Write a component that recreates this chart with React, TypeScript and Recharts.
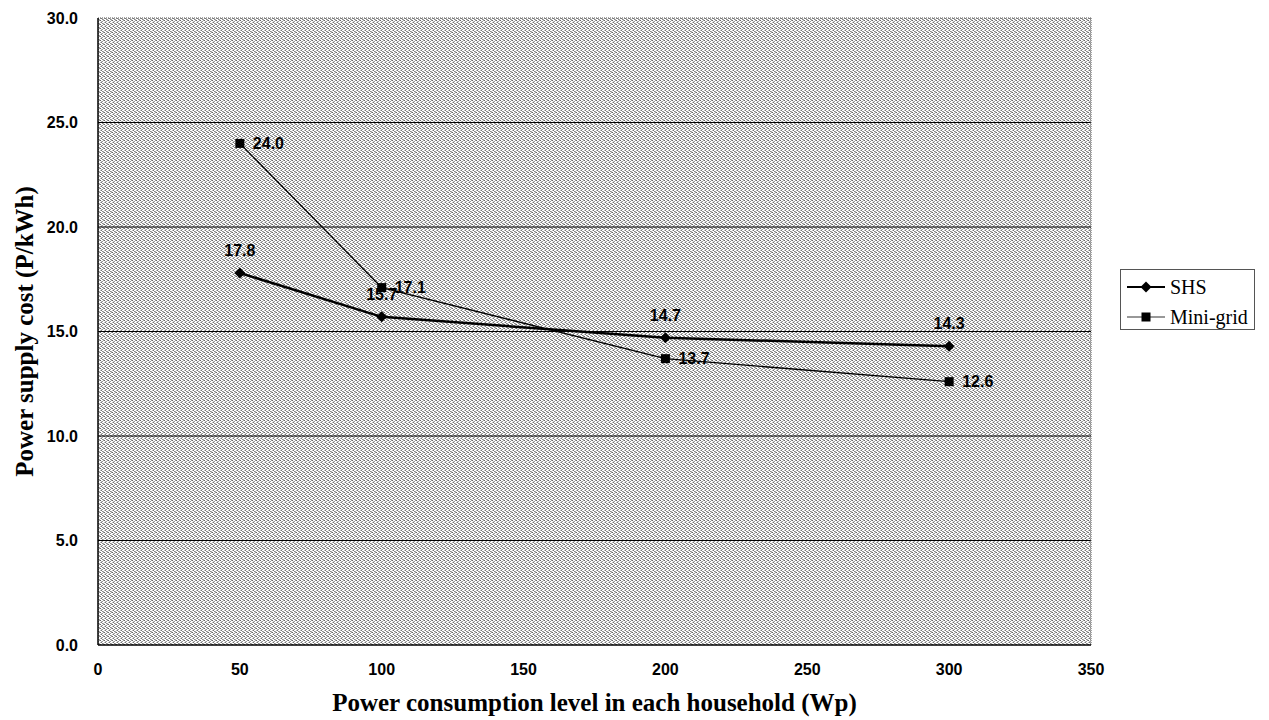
import React from 'react';
import { LineChart, Line, XAxis, YAxis, CartesianGrid, Legend, LabelList, ReferenceLine } from 'recharts';

const xValues = [50, 100, 200, 300];
const shsValues = [17.8, 15.7, 14.7, 14.3];
const miniGridValues = [24.0, 17.1, 13.7, 12.6];
const xTicks = [0, 50, 100, 150, 200, 250, 300, 350];
const yTicks = [0, 5, 10, 15, 20, 25, 30];
const gridValues = [5, 10, 15, 20, 25];
const seriesNames = ['SHS', 'Mini-grid'];

const data = xValues.map((x, i) => ({ x, shs: shsValues[i], mini: miniGridValues[i] }));

const SANS = '"Liberation Sans", Arial, sans-serif';
const SERIF = '"Liberation Serif", "Times New Roman", serif';

const renderDiamond = (props: any) => {
  const { cx, cy, index } = props;
  if (cx == null || cy == null) return <g key={`d${index}`} />;
  const r = 5.5;
  return <path key={`d${index}`} d={`M${cx},${cy - r}L${cx + r},${cy}L${cx},${cy + r}L${cx - r},${cy}Z`} fill="#000" />;
};

const renderSquare = (props: any) => {
  const { cx, cy, index } = props;
  if (cx == null || cy == null) return <g key={`s${index}`} />;
  const h = 4.5;
  return <rect key={`s${index}`} x={cx - h} y={cy - h} width={h * 2} height={h * 2} fill="#000" />;
};

const renderLegend = () => (
  <div
    style={{
      border: '1px solid #555',
      background: '#fff',
      width: 133,
      height: 59,
      fontFamily: SERIF,
      fontSize: 20,
      color: '#000',
      lineHeight: '28px',
    }}
  >
    <div style={{ display: 'flex', alignItems: 'center', height: 28, marginTop: 3 }}>
      <svg width={44} height={20} style={{ flex: 'none' }}>
        <line x1={6} x2={44} y1={10} y2={10} stroke="#000" strokeWidth={2} />
        <path d="M25,4.5L30.5,10L25,15.5L19.5,10Z" fill="#000" />
      </svg>
      <span style={{ marginLeft: 5 }}>{seriesNames[0]}</span>
    </div>
    <div style={{ display: 'flex', alignItems: 'center', height: 28, marginTop: 2 }}>
      <svg width={44} height={20} style={{ flex: 'none' }}>
        <line x1={6} x2={44} y1={10} y2={10} stroke="#333" strokeWidth={1.2} />
        <rect x={20.5} y={5.5} width={9} height={9} fill="#000" />
      </svg>
      <span style={{ marginLeft: 5 }}>{seriesNames[1]}</span>
    </div>
  </div>
);

export default function App() {
  return (
    <LineChart
      width={1253}
      height={712}
      data={data}
      margin={{ top: 10, right: 35, bottom: 5, left: 0 }}
    >
      <defs>
        <pattern id="dither" width="4" height="4" patternUnits="userSpaceOnUse">
          <rect x="0" y="0" width="4" height="4" fill="#ffffff" />
          <rect x="0" y="0" width="1" height="1" fill="#666666" />
          <rect x="2" y="1" width="1" height="1" fill="#999999" />
          <rect x="1" y="2" width="1" height="1" fill="#777777" />
          <rect x="3" y="3" width="1" height="1" fill="#aaaaaa" />
          <rect x="2" y="3" width="1" height="1" fill="#888888" />
          <rect x="0" y="2" width="1" height="1" fill="#bbbbbb" />
          <rect x="3" y="0" width="1" height="1" fill="#999999" />
          <rect x="1" y="1" width="1" height="1" fill="#bbbbbb" />
        </pattern>
      </defs>
      <CartesianGrid
        vertical={false}
        horizontalValues={gridValues}
        stroke="#000"
        strokeWidth={1}
        fill="url(#dither)"
        fillOpacity={1}
      />
      <XAxis
        dataKey="x"
        type="number"
        domain={[0, 350]}
        ticks={xTicks}
        height={70}
        tickLine={false}
        tickMargin={13}
        axisLine={{ stroke: '#000', strokeWidth: 1.5 }}
        tick={{ fill: '#000', fontSize: 16, fontFamily: SANS, fontWeight: 'bold' }}
        label={{
          value: 'Power consumption level in each household (Wp)',
          position: 'insideBottom',
          offset: 4,
          style: { fontFamily: SERIF, fontWeight: 'bold', fontSize: 25, fill: '#000' },
        }}
      />
      <YAxis
        type="number"
        domain={[0, 30]}
        ticks={yTicks}
        width={90}
        tickLine={false}
        tickMargin={14}
        axisLine={{ stroke: '#000', strokeWidth: 1.5 }}
        tickFormatter={(v: number) => v.toFixed(1)}
        tick={{ fill: '#000', fontSize: 16, fontFamily: SANS, fontWeight: 'bold' }}
        label={{
          value: 'Power supply cost (P/kWh)',
          angle: -90,
          position: 'insideLeft',
          offset: 16.5,
          style: { textAnchor: 'middle', fontFamily: SERIF, fontWeight: 'bold', fontSize: 25, fill: '#000' },
        }}
      />
      <ReferenceLine y={30} stroke="#555" strokeDasharray="1 1" />
      <ReferenceLine x={350} stroke="#555" strokeDasharray="1 1" />
      <Legend
        layout="vertical"
        align="right"
        verticalAlign="middle"
        content={renderLegend}
        wrapperStyle={{ position: 'absolute', left: 1112, top: 261, width: 135, height: 61 }}
      />
      <Line
        name={seriesNames[0]}
        dataKey="shs"
        stroke="#000"
        strokeWidth={2.5}
        dot={renderDiamond}
        activeDot={false}
        isAnimationActive={false}
      >
        <LabelList
          dataKey="shs"
          position="top"
          offset={17}
          formatter={(v: any) => Number(v).toFixed(1)}
          style={{ fill: '#000', fontSize: 16, fontFamily: SANS, fontWeight: 'bold' }}
        />
      </Line>
      <Line
        name={seriesNames[1]}
        dataKey="mini"
        stroke="#000"
        strokeWidth={1.3}
        dot={renderSquare}
        activeDot={false}
        isAnimationActive={false}
      >
        <LabelList
          dataKey="mini"
          position="right"
          offset={13}
          formatter={(v: any) => Number(v).toFixed(1)}
          style={{ fill: '#000', fontSize: 16, fontFamily: SANS, fontWeight: 'bold' }}
        />
      </Line>
    </LineChart>
  );
}
